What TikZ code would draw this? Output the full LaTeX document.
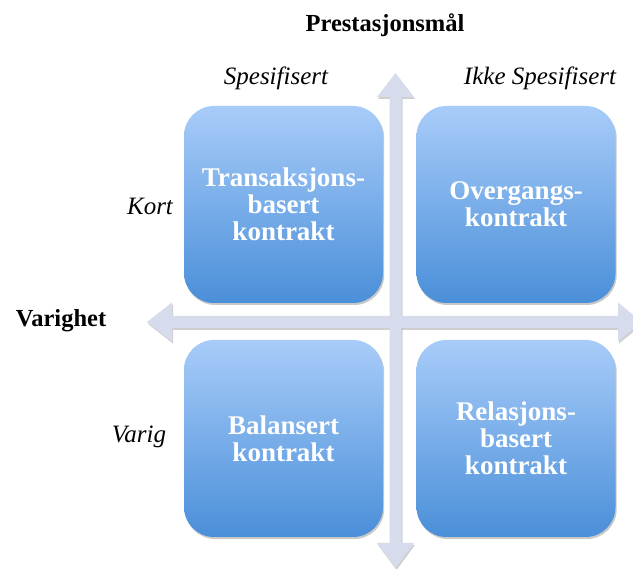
\documentclass[tikz,border=0pt]{standalone}
\usepackage{fontspec}
\setmainfont{Liberation Serif}
\usetikzlibrary{shadows}
\definecolor{arrowfill}{RGB}{214,220,236}
\definecolor{arrowshadow}{RGB}{150,150,155}
\definecolor{boxtop}{RGB}{168,204,249}
\definecolor{boxbot}{RGB}{74,143,217}
\tikzset{
  quadbox/.style={rounded corners=30pt, minimum width=199pt, minimum height=197pt,
    top color=boxtop, bottom color=boxbot, draw=none, text=white, align=center,
    font=\bfseries\fontsize{27}{27}\selectfont,
    drop shadow={shadow xshift=1.2pt, shadow yshift=-2pt, opacity=0.35, fill=black!60}},
  axislabel/.style={anchor=base, font=\itshape\fontsize{25}{28}\selectfont, inner sep=0pt},
  axistitle/.style={anchor=base, font=\bfseries\fontsize{24.5}{28}\selectfont, inner sep=0pt},
  arrowbody/.style={fill=arrowfill, draw=none},
  arrowshade/.style={fill=arrowshadow, opacity=0.45, draw=none}
}
\begin{document}
\begin{tikzpicture}[x=1pt,y=-1pt]
\useasboundingbox (0,0) rectangle (633,569);
\clip (0,0) rectangle (633,569);
\fill[white] (0,0) rectangle (633,569);
% axes shadows
\begin{scope}[shift={(1,2)}]
\path[arrowshade] (395.5,73) -- (414,97) -- (401.5,97) -- (401.5,543) -- (414,543) -- (395.5,568) -- (377,543) -- (389.5,543) -- (389.5,97) -- (377,97) -- cycle;
\path[arrowshade] (147,322) -- (172,302.5) -- (172,316) -- (618,316) -- (618,302.5) -- (642,322) -- (618,341.5) -- (618,328) -- (172,328) -- (172,341.5) -- cycle;
\end{scope}
% axes
\path[arrowbody] (395.5,73) -- (414,97) -- (401.5,97) -- (401.5,543) -- (414,543) -- (395.5,568) -- (377,543) -- (389.5,543) -- (389.5,97) -- (377,97) -- cycle;
\path[arrowbody] (147,322) -- (172,302.5) -- (172,316) -- (618,316) -- (618,302.5) -- (642,322) -- (618,341.5) -- (618,328) -- (172,328) -- (172,341.5) -- cycle;
% boxes
\node[quadbox] (tl) at (283.5,204.5) {Transaksjons-\\basert\\kontrakt};
\node[quadbox] (tr) at (516,204.5) {Overgangs-\\kontrakt};
\node[quadbox] (bl) at (283.5,438.5) {Balansert\\kontrakt};
\node[quadbox] (br) at (516,438.5) {Relasjons-\\basert\\kontrakt};
% labels
\node[axistitle] (title) at (385,32) {Prestasjonsmål};
\node[axistitle] (varighet) at (61,327) {Varighet};
\node[axislabel] (spes) at (276,85) {Spesifisert};
\node[axislabel] (ikke) at (540,85) {Ikke Spesifisert};
\node[axislabel] (kort) at (150,215) {Kort};
\node[axislabel] (varig) at (139,443) {Varig};
\end{tikzpicture}
\end{document}
